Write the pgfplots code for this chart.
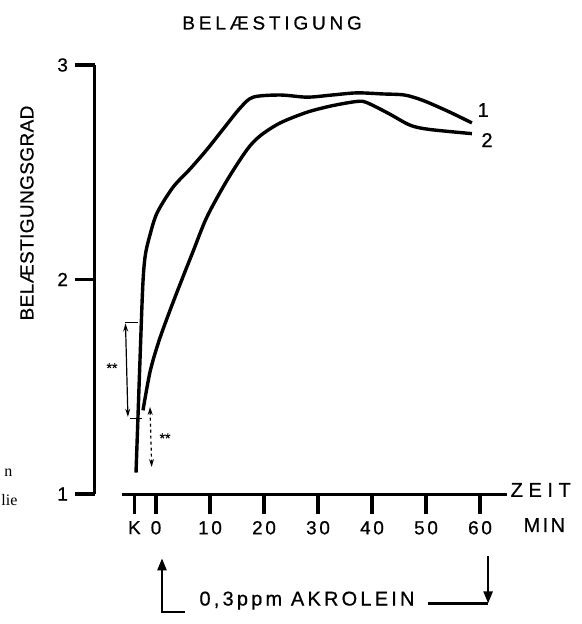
\documentclass[border=0pt]{standalone}
\usepackage{fontspec}
\setmainfont{Liberation Sans}[FakeBold=0.6]
\newfontfamily\serifpart{Liberation Serif}
\usepackage{pgfplots}
\pgfplotsset{compat=1.18}
\usetikzlibrary{arrows.meta}
\begin{document}
\begin{tikzpicture}
\begin{axis}[
  x=2.7pt, y=107.25pt,
  xmin=-11.3, xmax=65, ymin=1, ymax=3,
  axis line style={draw=none},
  clip=false,
  xtick={-4,0,10,20,30,40,50,60},
  xticklabels={K,0,10,20,30,40,50,60},
  ytick={1,2,3}, yticklabels={1,2,3},
  tick align=outside,
  major tick length=10pt,
  tick pos=left,
  major tick style={black, line width=1.8pt},
  tick label style={font=\fontsize{9.5}{10}\selectfont\addfontfeatures{LetterSpace=14}},
  /pgf/number format/assume math mode=true,
]
% curve 1
\addplot[black, line width=1.7pt, smooth, tension=0.5] coordinates {
(-3.70,1.10) (-3.0,1.60) (-2.45,1.97) (-2.0,2.11) (-1.2,2.20) (0.19,2.31)
(3.15,2.43) (6.3,2.515) (9.4,2.605) (12.4,2.70) (15.6,2.80) (18,2.85)
(23,2.86) (28,2.85) (32.6,2.86) (37.2,2.87) (42,2.865) (46,2.86)
(49.4,2.835) (54,2.785) (58.5,2.73)
};
% curve 2
\addplot[black, line width=1.7pt, smooth, tension=0.5] coordinates {
(-2.41,1.39) (-1.1,1.57) (0.5,1.71) (2.5,1.85) (4.8,2.0) (6.85,2.13)
(9.4,2.29) (13.1,2.46) (16.85,2.605) (19.3,2.67) (23,2.73) (28,2.78)
(32.6,2.81) (37.2,2.83) (39,2.825) (43,2.775) (47,2.72) (50.5,2.70)
(58.5,2.68)
};
% axis lines
\draw[line width=1.5pt] (axis cs:-11.3,1) -- (axis cs:-11.3,3);
\draw[line width=1.5pt] (axis cs:-6.3,1) -- (axis cs:65,1);
% curve labels
\node[font=\fontsize{10}{10}\selectfont] at (axis cs:60.6,2.79) {1};
\node[font=\fontsize{10}{10}\selectfont] at (axis cs:61.3,2.65) {2};
% title and axis labels
\node[font=\fontsize{9.5}{10}\selectfont\addfontfeatures{LetterSpace=20}] at (axis cs:21.5,3.196) {BELÆSTIGUNG};
\node[rotate=90, font=\fontsize{9.5}{10}\selectfont\addfontfeatures{LetterSpace=2}] at (axis cs:-23.9,2.31) {BELÆSTIGUNGSGRAD};
\node[anchor=west, inner sep=0pt, font=\fontsize{10}{10}\selectfont\addfontfeatures{LetterSpace=28}] at (axis cs:65.6,1.019) {ZEIT};
\node[anchor=west, inner sep=0pt, font=\fontsize{10}{10}\selectfont\addfontfeatures{LetterSpace=12}] at (axis cs:68.0,0.855) {MIN};
% significance markers
\draw[line width=0.5pt] (axis cs:-5.74,1.80) -- (axis cs:-3.33,1.80);
\draw[line width=0.5pt] (axis cs:-4.81,1.354) -- (axis cs:-2.59,1.354);
\draw[line width=0.6pt, {Stealth[length=4pt,width=2.5pt]}-{Stealth[length=4pt,width=2.5pt]}] (axis cs:-5.65,1.795) -- (axis cs:-5.2,1.36);
\node[font=\fontsize{7}{7}\selectfont] at (axis cs:-8.15,1.587) {**};
\draw[line width=0.6pt, dash pattern=on 1.5pt off 1.5pt, {Stealth[length=4pt,width=2.5pt]}-{Stealth[length=4pt,width=2.5pt]}] (axis cs:-1.11,1.406) -- (axis cs:-0.8,1.126);
\node[font=\fontsize{7}{7}\selectfont] at (axis cs:1.67,1.26) {**};
% Akrolein exposure
\draw[line width=1.2pt, -{Triangle[length=6pt,width=4.5pt]}] (axis cs:5.4,0.45) -- (axis cs:1.11,0.45) -- (axis cs:1.11,0.70);
\draw[line width=1.2pt] (axis cs:50.4,0.49) -- (axis cs:61.5,0.49);
\draw[line width=1.2pt, -{Triangle[length=6pt,width=4.5pt]}] (axis cs:61.5,0.71) -- (axis cs:61.5,0.49);
\node[font=\fontsize{10}{10}\selectfont\addfontfeatures{LetterSpace=16}] at (axis cs:27.96,0.503) {0,3ppm AKROLEIN};
% fragments of neighbouring text
\node[anchor=east, inner sep=0pt, font=\serifpart\fontsize{8}{8}\selectfont] at (axis cs:-26.5,1.10) {n};
\node[anchor=east, inner sep=0pt, font=\serifpart\fontsize{8}{8}\selectfont] at (axis cs:-25.6,0.972) {lie};
\coordinate (TL) at (axis cs:-28.889,3.3030);
\coordinate (BR) at (axis cs:78.704,0.39394);
\end{axis}
\pgfresetboundingbox
\useasboundingbox (TL) rectangle (BR);
\end{tikzpicture}
\end{document}
